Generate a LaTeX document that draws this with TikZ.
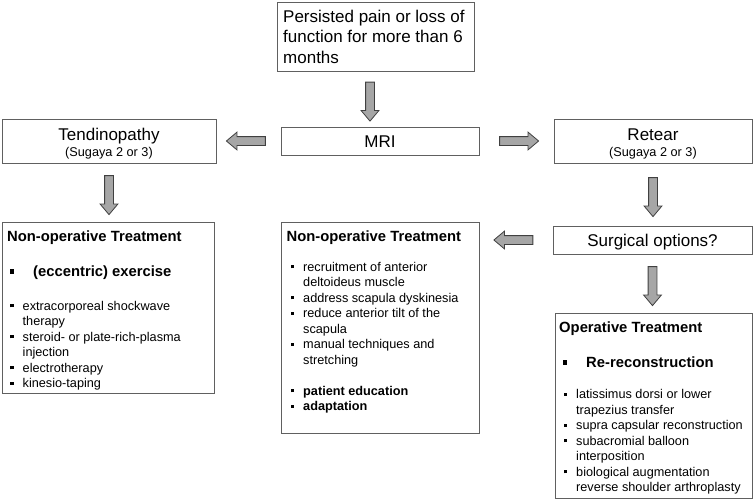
\documentclass[tikz,border=0pt]{standalone}
\usepackage{fontspec}
\setmainfont{Liberation Sans}
\usetikzlibrary{shapes.arrows,calc}
\definecolor{boxc}{HTML}{606060}
\definecolor{arrc}{HTML}{404040}
\definecolor{arrf}{HTML}{A6A6A6}
\newcommand\blt{\raisebox{2.6pt}{\rule{3.4pt}{3.4pt}}}
\newcommand\bigblt{\raisebox{3pt}{\rule{4.2pt}{4.2pt}}}
\newcommand\itm[2][12.5pt]{\par\hangindent=#1\hangafter=1\noindent\makebox[#1][l]{\blt}#2}
\newcommand\lst[1]{\parbox[t]{220pt}{\fontsize{12.7}{15.5}\selectfont #1}}
\tikzset{
  box/.style={draw=boxc, line width=1pt, inner sep=0pt},
  blk/.style={single arrow, draw=arrc, fill=arrf, line width=0.8pt,
    inner xsep=0pt, inner ysep=4pt, single arrow head extend=4.5pt,
    single arrow head indent=0pt, single arrow tip angle=80,
    minimum height=39pt, sloped, allow upside down},
  txt/.style={inner sep=0pt, anchor=base west},
  ctxt/.style={inner sep=0pt, anchor=base},
  big/.style={font=\fontsize{17}{20.5}\selectfont},
  small/.style={font=\fontsize{12.7}{15}\selectfont},
  head/.style={font=\fontsize{14.8}{18}\selectfont\bfseries},
}
\begin{document}
\begin{tikzpicture}[x=1pt,y=-1pt]
\useasboundingbox (0,0) rectangle (753,499);
% boxes
\node[box, minimum width=197pt, minimum height=69pt] (top) at (376,36.5) {};
\node[box, minimum width=198pt, minimum height=28pt] (mri) at (380,141) {};
\node[box, minimum width=214pt, minimum height=44pt] (tend) at (109,141) {};
\node[box, minimum width=198pt, minimum height=44pt] (retear) at (653,141) {};
\node[box, minimum width=199pt, minimum height=28pt] (surg) at (652.5,240) {};
\node[box, minimum width=212pt, minimum height=171pt] (lnon) at (108,307.5) {};
\node[box, minimum width=198pt, minimum height=211pt] (mnon) at (380,327.5) {};
\node[box, minimum width=197pt, minimum height=185pt] (oper) at (653.5,405.5) {};
% texts
\node[txt, big] (toptxt) at (283,22) {\parbox[t]{190pt}{Persisted pain or loss of\\function for more than 6\\months}};
\node[ctxt, big] (mritxt) at (mri.center |- 0,147) {MRI};
\node[ctxt, big] (tendtxt) at (tend.center |- 0,140) {Tendinopathy};
\node[ctxt, small] (tendsub) at (tend.center |- 0,156) {(Sugaya 2 or 3)};
\node[ctxt, big] (reteartxt) at (retear.center |- 0,140) {Retear};
\node[ctxt, small] (retearsub) at (retear.center |- 0,156) {(Sugaya 2 or 3)};
\node[ctxt, big] (surgtxt) at (surg.center |- 0,246) {Surgical options?};
% left non-operative
\node[txt, head] (lhead) at (7,241) {Non-operative Treatment};
\node[txt, head] (lmain) at (10,276.5) {\makebox[23pt][l]{\bigblt}(eccentric) exercise};
\node[txt] (llist) at (10,310) {\lst{\itm{extracorporeal shockwave\\therapy}\itm{steroid- or plate-rich-plasma\\injection}\itm{electrotherapy}\itm{kinesio-taping}}};
% middle non-operative
\node[txt, head] (mhead) at (286.5,241) {Non-operative Treatment};
\node[txt] (mlist) at (290.5,271) {\lst{\itm{recruitment of anterior\\deltoideus muscle}\itm{address scapula dyskinesia}\itm{reduce anterior tilt of the\\scapula}\itm{manual techniques and\\stretching}}};
\node[txt] (mbold) at (290.5,395) {\lst{\bfseries\itm{patient education}\itm{adaptation}}};
% operative
\node[txt, head] (ohead) at (559,332) {Operative Treatment};
\node[txt, head] (omain) at (563,367.5) {\makebox[23pt][l]{\bigblt}Re-reconstruction};
\node[txt] (olist) at (563.5,398.5) {\lst{\itm{latissimus dorsi or lower\\trapezius transfer}\itm{supra capsular reconstruction}\itm{subacromial balloon\\interposition}\itm{biological augmentation\\reverse shoulder arthroplasty}}};
% arrows
\path ($(top.south)+(-6,0)$) -- node[blk]{} ($(top.south |- mri.north)+(-6,0)$);
\path (mri.west) -- node[blk]{} (tend.east |- mri.west);
\path (mri.east) -- node[blk]{} (retear.west |- mri.east);
\path (tend.south) -- node[blk]{} (tend.south |- lnon.north);
\path (retear.south) -- node[blk]{} (retear.south |- surg.north);
\path (surg.south) -- node[blk]{} (surg.south |- oper.north);
\path (surg.west) -- node[blk]{} (mnon.east |- surg.west);
\end{tikzpicture}
\end{document}
